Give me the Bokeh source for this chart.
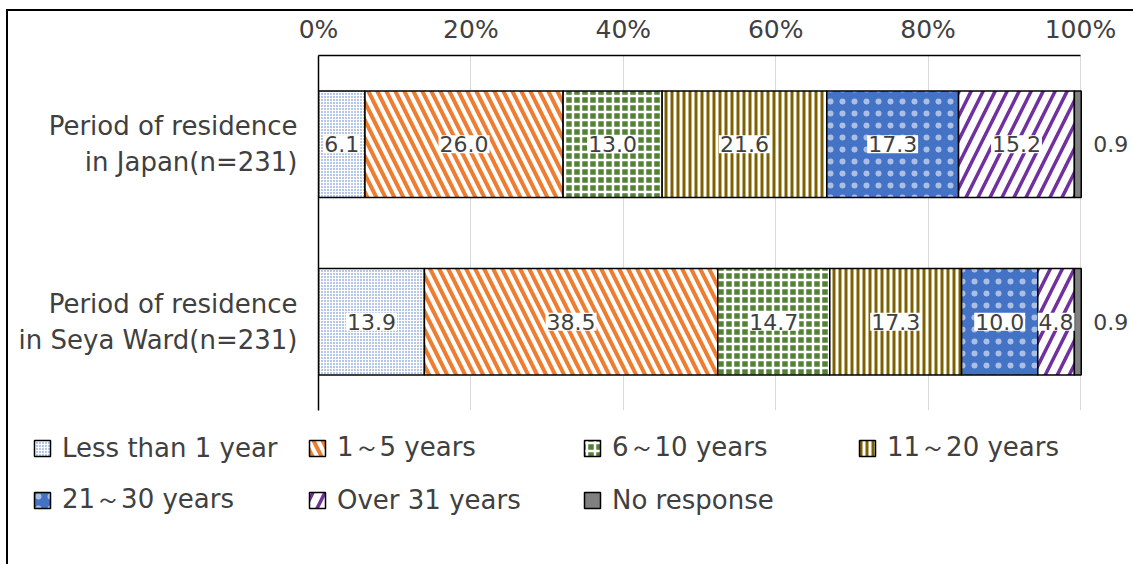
from bokeh.plotting import figure
from bokeh.models import (ColumnDataSource, FactorRange, Range1d, Legend, LegendItem, FixedTicker)
from bokeh.core.properties import value
from bokeh.embed import file_html
from bokeh.resources import INLINE

# ---------------- data ----------------
categories = ["Period of residence\nin Japan(n=231)",
              "Period of residence\nin Seya Ward(n=231)"]
series_names = ["Less than 1 year", "1～5 years", "6～10 years", "11～20 years",
                "21～30 years", "Over 31 years", "No response"]
japan = [6.1, 26.0, 13.0, 21.6, 17.3, 15.2, 0.9]
seya = [13.9, 38.5, 14.7, 17.3, 10.0, 4.8, 0.9]
x_ticks = [0, 20, 40, 60, 80, 100]
x_tick_labels = ["0%", "20%", "40%", "60%", "80%", "100%"]

FONT = "DejaVu Sans"
TXT = "#404040"

styles = [
    dict(fill_color="white", hatch_pattern="dot", hatch_color="#4472C4", hatch_scale=3, hatch_weight=1.5),
    dict(fill_color="white", hatch_pattern="\\", hatch_color="#ED7D31", hatch_scale=18, hatch_weight=4),
    dict(fill_color="#548235", hatch_pattern="+", hatch_color="white", hatch_scale=8, hatch_weight=2.5),
    dict(fill_color="white", hatch_pattern="|", hatch_color="#7F6000", hatch_scale=6, hatch_weight=3),
    dict(fill_color="#4472C4", hatch_pattern="dot", hatch_color="white", hatch_scale=12,
         hatch_weight=0.1, hatch_alpha=0.55),
    dict(fill_color="white", hatch_pattern="/", hatch_color="#7030A0", hatch_scale=24, hatch_weight=3.5),
    dict(fill_color="#808080"),
]

# ---------------- main chart ----------------
p = figure(width=1125, height=409,
           y_range=FactorRange(factors=categories[::-1]),
           x_range=Range1d(0, 106.96),
           x_axis_location="above",
           output_backend="svg", toolbar_location=None,
           min_border_left=310, min_border_top=42, min_border_right=0, min_border_bottom=10)
p.outline_line_color = None
p.background_fill_color = "white"
p.border_fill_color = "white"
p.styles = {"margin-left": "8px", "margin-top": "11px",
            "box-shadow": "-2px 0 0 0 #000, 0 -2px 0 0 #000, -2px -2px 0 0 #000"}

rows = [japan, seya]
sources = []
inner = dict(x=[], y=[], text=[])
outer = dict(x=[], y=[], text=[])
starts = [0.0, 0.0]
for i, name in enumerate(series_names):
    lefts, rights = [], []
    for j, row in enumerate(rows):
        v = row[i]
        lefts.append(starts[j])
        rights.append(starts[j] + v)
        if v >= 2:
            inner["x"].append(starts[j] + v / 2)
            inner["y"].append(categories[j])
            inner["text"].append(f"{v:.1f}")
        else:
            outer["x"].append(starts[j] + v)
            outer["y"].append(categories[j])
            outer["text"].append(f"{v:.1f}")
        starts[j] += v
    src = ColumnDataSource(dict(y=categories, left=lefts, right=rights))
    sources.append(src)
    p.hbar(y="y", left="left", right="right", height=0.6, source=src,
           line_color="black", line_width=1.5, **styles[i])

p.text(x="x", y="y", text="text", source=ColumnDataSource(inner),
       text_align="center", text_baseline="middle",
       text_font=value(FONT), text_font_size=value("22px"), text_color=TXT,
       background_fill_color="white", padding=1)
p.text(x="x", y="y", text="text", source=ColumnDataSource(outer),
       text_align="left", text_baseline="middle", x_offset=12,
       text_font=value(FONT), text_font_size=value("22px"), text_color=TXT)

ax = p.xaxis[0]
ax.ticker = FixedTicker(ticks=x_ticks)
ax.bounds = (x_ticks[0], x_ticks[-1])
ax.major_label_overrides = {t: l for t, l in zip(x_ticks, x_tick_labels)}
ax.major_label_text_font = FONT
ax.major_label_text_font_size = "25px"
ax.major_label_text_color = TXT
ax.major_tick_line_color = None
ax.minor_tick_line_color = None
ax.axis_line_color = "black"
ax.axis_line_width = 1.5
ax.major_label_standoff = 6

ay = p.yaxis[0]
ay.major_label_text_font = FONT
ay.major_label_text_font_size = "26px"
ay.major_label_text_color = TXT
ay.major_tick_line_color = None
ay.axis_line_color = "black"
ay.axis_line_width = 1.5
ay.major_label_standoff = 15

p.xgrid.ticker = FixedTicker(ticks=x_ticks)
p.xgrid.grid_line_color = "#D9D9D9"
p.ygrid.visible = False

# ---------------- legend strip ----------------
q = figure(width=1125, height=144, x_axis_location=None, y_axis_location=None,
           y_range=FactorRange(factors=categories[::-1]), x_range=Range1d(0, 100),
           output_backend="svg", toolbar_location=None,
           min_border_left=0, min_border_right=0, min_border_top=0, min_border_bottom=0)
q.outline_line_color = None
q.grid.visible = False
q.background_fill_color = "white"
q.border_fill_color = "white"
q.styles = {"margin-left": "8px", "box-shadow": "-2px 0 0 0 #000"}
swatches = []
for i, name in enumerate(series_names):
    r = q.hbar(y="y", left="left", right="right", height=0.6, source=sources[i],
               line_color="black", line_width=1.5, visible=False, **styles[i])
    swatches.append(r)

legend = Legend(items=[LegendItem(label=n, renderers=[r]) for n, r in zip(series_names, swatches)],
                location=(24, 47), orientation="horizontal", ncols=4,
                glyph_width=20, glyph_height=20, label_standoff=10, spacing=17,
                label_width=228,
                label_text_font=FONT, label_text_font_size="26px", label_text_color=TXT,
                background_fill_alpha=0, border_line_color=None, padding=0, margin=0)
q.add_layout(legend, "center")

open("out.html", "w").write(file_html([p, q], INLINE))
